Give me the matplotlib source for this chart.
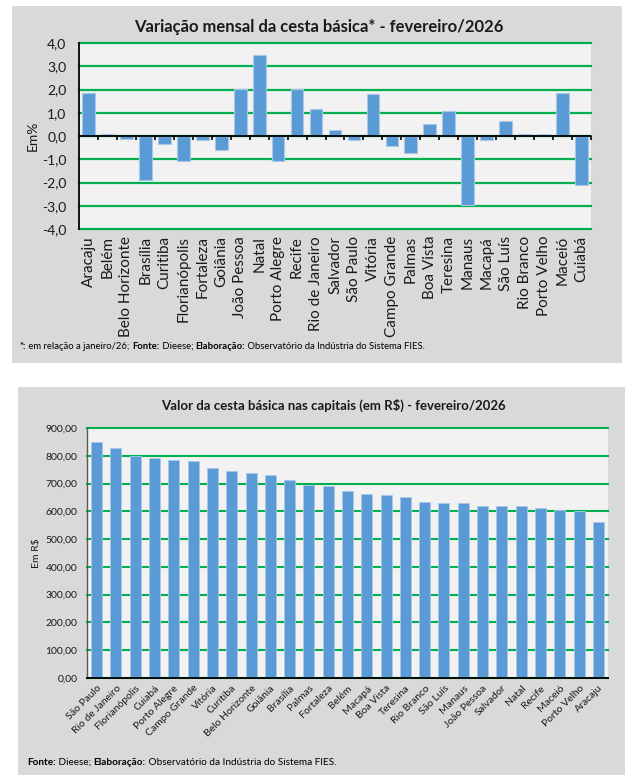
import matplotlib
matplotlib.use('Agg')
import matplotlib.pyplot as plt
import numpy as np
from matplotlib.patches import Rectangle
from matplotlib.ticker import FuncFormatter

plt.rcParams['font.family'] = ['Lato', 'DejaVu Sans']

# ---- data: monthly variation (%) ----
cidades_var = ['Aracaju', 'Belém', 'Belo Horizonte', 'Brasília', 'Curitiba', 'Florianópolis',
               'Fortaleza', 'Goiânia', 'João Pessoa', 'Natal', 'Porto Alegre', 'Recife',
               'Rio de Janeiro', 'Salvador', 'São Paulo', 'Vitória', 'Campo Grande', 'Palmas',
               'Boa Vista', 'Teresina', 'Manaus', 'Macapá', 'São Luís', 'Rio Branco',
               'Porto Velho', 'Maceió', 'Cuiabá']
variacao = [1.84, 0.08, -0.14, -1.91, -0.33, -1.09, -0.16, -0.62, 2.01, 3.50, -1.09, 2.01,
            1.15, 0.26, -0.18, 1.79, -0.41, -0.74, 0.51, 1.07, -2.96, -0.18, 0.64, 0.10,
            0.10, 1.87, -2.11]
ticks_var = [-4, -3, -2, -1, 0, 1, 2, 3, 4]

# ---- data: basket value (R$) ----
cidades_valor = ['São Paulo', 'Rio de Janeiro', 'Florianópolis', 'Cuiabá', 'Porto Alegre',
                 'Campo Grande', 'Vitória', 'Curitiba', 'Belo Horizonte', 'Goiânia', 'Brasília',
                 'Palmas', 'Fortaleza', 'Belém', 'Macapá', 'Boa Vista', 'Teresina', 'Rio Branco',
                 'São Luís', 'Manaus', 'João Pessoa', 'Salvador', 'Natal', 'Recife', 'Maceió',
                 'Porto Velho', 'Aracaju']
valor = [851, 827, 799, 793, 786, 780, 756, 746, 737, 731, 713, 695, 693, 675, 662, 660, 651,
         633, 631, 629, 620, 618, 618, 613, 606, 602, 563]
ticks_valor = [0, 100, 200, 300, 400, 500, 600, 700, 800, 900]

titulo1 = 'Variação mensal da cesta básica* - fevereiro/2026'
titulo2 = 'Valor da cesta básica nas capitais (em R$) - fevereiro/2026'
nota1 = [('*:', True), (' em relação a janeiro/26; ', False), ('Fonte:', True), (' Dieese; ', False),
         ('Elaboração:', True), (' Observatório da Indústria do Sistema FIES.', False)]
nota2 = [('Fonte:', True), (' Dieese; ', False), ('Elaboração:', True),
         (' Observatório da Indústria do Sistema FIES.', False)]

BAR = '#5B9BD5'
EDGE = '#A9C8E8'
GRID = '#00B050'
PLOTBG = '#F2F2F2'
PANEL = '#D9D9D9'

W, H = 634, 783
fig = plt.figure(figsize=(W / 100, H / 100), dpi=100)
fig.patch.set_facecolor('white')


def fx(x):
    return x / W


def fy(y):
    return 1 - y / H


def box(x0, y0, x1, y1, color):
    fig.patches.append(Rectangle((fx(x0), fy(y1)), fx(x1) - fx(x0), fy(y0) - fy(y1),
                                 transform=fig.transFigure, facecolor=color,
                                 edgecolor='none', zorder=-5))


box(12, 6, 622, 363, PANEL)
box(18, 387, 625, 775, PANEL)

# ================= top chart =================
ax1 = fig.add_axes([fx(79), fy(229), fx(591) - fx(79), fy(43) - fy(229)])
ax1.set_facecolor(PLOTBG)
ax1.set_axisbelow(True)
x1 = np.arange(len(cidades_var))
ax1.bar(x1, variacao, width=0.67, color=BAR, edgecolor=EDGE, linewidth=0.8, zorder=3)
ax1.set_xlim(-0.5, len(cidades_var) - 0.5)
ax1.set_ylim(ticks_var[0], ticks_var[-1])
ax1.set_yticks(ticks_var)
ax1.yaxis.set_major_formatter(FuncFormatter(lambda v, p: f"{v:.1f}".replace('.', ',')))
ax1.grid(axis='y', color=GRID, linewidth=1.6)
for gl in ax1.get_ygridlines():
    gl.set_clip_on(False)
ax1.axhline(0, color='black', lw=1.3, zorder=4)
bounds = np.arange(len(cidades_var) + 1) - 0.5
ax1.vlines(bounds[1:], -0.17, 0, color='black', lw=1.2, zorder=4, clip_on=False)
for s in ['top', 'right', 'bottom']:
    ax1.spines[s].set_visible(False)
ax1.spines['left'].set_linewidth(1.3)
ax1.spines['left'].set_zorder(5)
ax1.tick_params(axis='y', length=0, pad=9, labelsize=10, labelcolor='#1a1a1a')
ax1.set_xticks(x1)
ax1.set_xticklabels(cidades_var, rotation=90, fontsize=11, color='#1a1a1a')
ax1.tick_params(axis='x', length=0, pad=5)

fig.text(fx(319), fy(27), titulo1, ha='center', va='center', fontsize=12.0,
         fontweight='bold', color='#1a1a1a')
fig.text(fx(33), fy(136), 'Em%', rotation=90, ha='center', va='center', fontsize=10,
         color='#1a1a1a')

# ================= bottom chart =================
ax2 = fig.add_axes([fx(87), fy(678), fx(608) - fx(87), fy(428) - fy(678)])
ax2.set_facecolor(PLOTBG)
ax2.set_axisbelow(True)
x2 = np.arange(len(cidades_valor))
ax2.bar(x2, valor, width=0.57, color=BAR, edgecolor=EDGE, linewidth=0.6, zorder=3)
ax2.set_xlim(-0.5, len(cidades_valor) - 0.5)
ax2.set_ylim(ticks_valor[0], ticks_valor[-1])
ax2.set_yticks(ticks_valor)
ax2.yaxis.set_major_formatter(FuncFormatter(lambda v, p: f"{v:.2f}".replace('.', ',')))
ax2.grid(axis='y', color=GRID, linewidth=1.5)
for gl in ax2.get_ygridlines():
    gl.set_clip_on(False)
for s in ['top', 'right']:
    ax2.spines[s].set_visible(False)
ax2.spines['left'].set_color('#595959')
ax2.spines['left'].set_linewidth(1.0)
ax2.spines['bottom'].set_color('black')
ax2.spines['bottom'].set_linewidth(1.3)
ax2.spines['bottom'].set_zorder(5)
ax2.tick_params(axis='y', length=0, pad=7, labelsize=7.5, labelcolor='#1a1a1a')
ax2.set_xticks(x2)
ax2.set_xticklabels(cidades_valor, rotation=45, ha='right', rotation_mode='anchor',
                    fontsize=7.5, color='#1a1a1a')
ax2.tick_params(axis='x', length=0, pad=4)

fig.text(fx(333), fy(405), titulo2, ha='center', va='center', fontsize=9.5,
         fontweight='bold', color='#1a1a1a')
fig.text(fx(36), fy(553), 'Em R$', rotation=90, ha='center', va='center', fontsize=7.5,
         color='#1a1a1a')

# ================= footnotes (mixed bold) =================
fig.canvas.draw()
renderer = fig.canvas.get_renderer()


def rich(x, y, parts, size):
    cx = fx(x)
    for txt, bold in parts:
        t = fig.text(cx, fy(y), txt, fontsize=size, fontweight='bold' if bold else 'normal',
                     ha='left', va='baseline', color='black')
        bb = t.get_window_extent(renderer=renderer)
        cx += bb.width / W


rich(20, 349, nota1, 6.8)
rich(27, 765, nota2, 7.2)

fig.savefig('out.png', dpi=100)
